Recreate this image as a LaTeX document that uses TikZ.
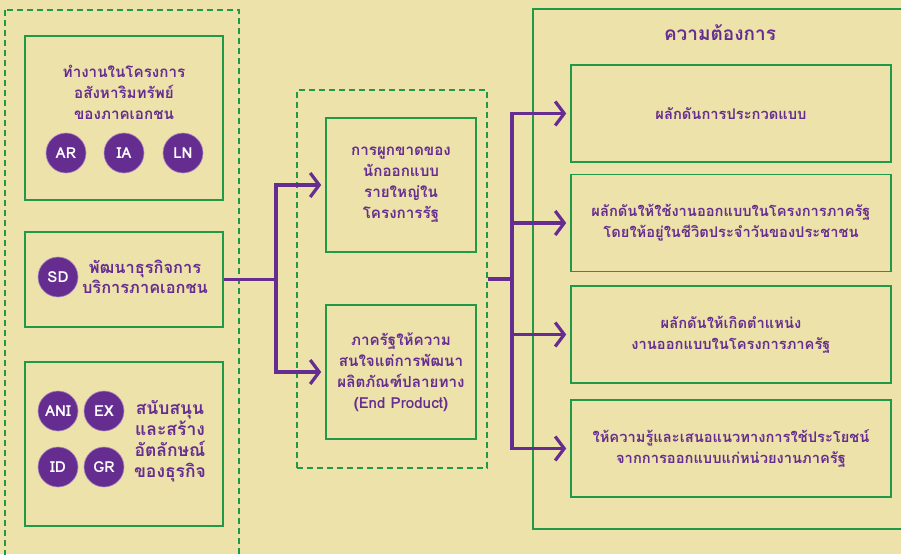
\documentclass[tikz,border=0pt]{standalone}
\usepackage{fontspec}
\newfontfamily\thaifont[Script=Thai]{Loma}
\usetikzlibrary{arrows.meta,positioning}
\definecolor{paper}{HTML}{EDE2A9}
\definecolor{leaf}{HTML}{1E9A48}
\definecolor{plum}{HTML}{662D91}

\begin{document}
\begin{tikzpicture}[x=1pt,y=-1pt,
    font=\thaifont\bfseries\fontsize{15.2}{21}\selectfont,
    boxline/.style={draw=leaf,line width=1.6pt,inner sep=0pt},
    dashline/.style={draw=leaf,line width=1.6pt,dash pattern=on 6pt off 4pt,inner sep=0pt},
    words/.style={text=plum,align=center},
    badge/.style={circle,fill=plum,draw=plum!55!white,line width=0.6pt,minimum size=40pt,inner sep=0pt,text=white},
    flow/.style={draw=plum,line width=3.2pt},
    pointy/.style={-{Straight Barb[length=9pt,width=24pt]}}]
    \useasboundingbox (0,0) rectangle (901,554);
    \clip (0,0) rectangle (901,554);
    \fill[paper] (0,0) rectangle (901,554);
    % left column
    \draw[dashline] (5,10) rectangle (239,580);
    \node[boxline,minimum width=198pt,minimum height=164pt] (ownbox) at (124,118) {};
    \node[words] (owntext) at (124,92) {ทำงานในโครงการ\\อสังหาริมทรัพย์\\ของภาคเอกชน};
    \node[badge] (ar) at (66,153) {AR};
    \node[badge] (ia) at (124,153) {IA};
    \node[badge] (ln) at (183,153) {LN};
    \node[boxline,minimum width=198pt,minimum height=95pt] (sdbox) at (124,279.5) {};
    \node[badge] (sd) at (58,277) {SD};
    \node[words,font=\thaifont\bfseries\fontsize{16.4}{20}\selectfont] (sdtext) at (145,277)
        {พัฒนาธุรกิจการ\\บริการภาคเอกชน};
    \node[boxline,minimum width=198pt,minimum height=164pt] (brandbox) at (124,444) {};
    \node[badge] (ani) at (58,411) {ANI};
    \node[badge] (ex) at (104,411) {EX};
    \node[badge] (id) at (58,467) {ID};
    \node[badge] (gr) at (104,467) {GR};
    \node[words,font=\thaifont\bfseries\fontsize{17.5}{21}\selectfont] (brandtext) at (170,441)
        {สนับสนุน\\และสร้าง\\อัตลักษณ์\\ของธุรกิจ};
    % middle column
    \node[dashline,minimum width=190pt,minimum height=378pt] (midgroup) at (392,279) {};
    \node[boxline,minimum width=150pt,minimum height=134pt,words] (mida) at (401,185)
        {การผูกขาดของ\\นักออกแบบ\\รายใหญ่ใน\\โครงการรัฐ};
    \node[boxline,minimum width=150pt,minimum height=134pt,words] (midb) at (401,372)
        {ภาครัฐให้ความ\\สนใจแต่การพัฒนา\\ผลิตภัณฑ์ปลายทาง\\(End Product)};
    % right column
    \draw[boxline] (533,9) rectangle (920,529);
    \node[words,font=\thaifont\bfseries\fontsize{19}{22}\selectfont] (needs) at (720,33) {ความต้องการ};
    \begin{scope}[every node/.style={boxline,minimum width=320pt,minimum height=97pt,words,
        font=\thaifont\bfseries\fontsize{14.7}{21}\selectfont}]
      \node (needa) at (731,113.5) {ผลักดันการประกวดแบบ};
      \node (needb) at (731,223) {ผลักดันให้ใช้งานออกแบบในโครงการภาครัฐ\\โดยให้อยู่ในชีวิตประจำวันของประชาชน};
      \node (needc) at (731,334.5) {ผลักดันให้เกิดตำแหน่ง\\งานออกแบบในโครงการภาครัฐ};
      \node (needd) at (731,448.5) {ให้ความรู้และเสนอแนวทางการใช้ประโยชน์\\จากการออกแบบแก่หน่วยงานภาครัฐ};
    \end{scope}
    % connectors
    \coordinate (lsplit) at (276,279.5);
    \coordinate (rsplit) at (512,279);
    \draw[flow] (sdbox.east) -- (lsplit);
    \draw[flow,pointy] (lsplit) |- ([xshift=-4pt]mida.west);
    \draw[flow,pointy] (lsplit) |- ([xshift=-4pt]midb.west);
    \draw[flow] (midgroup.east) -- (rsplit);
    \foreach \n in {needa,needb,needc,needd}
      \draw[flow,pointy] (rsplit) |- ([xshift=-4pt]\n.west);
\end{tikzpicture}
\end{document}
